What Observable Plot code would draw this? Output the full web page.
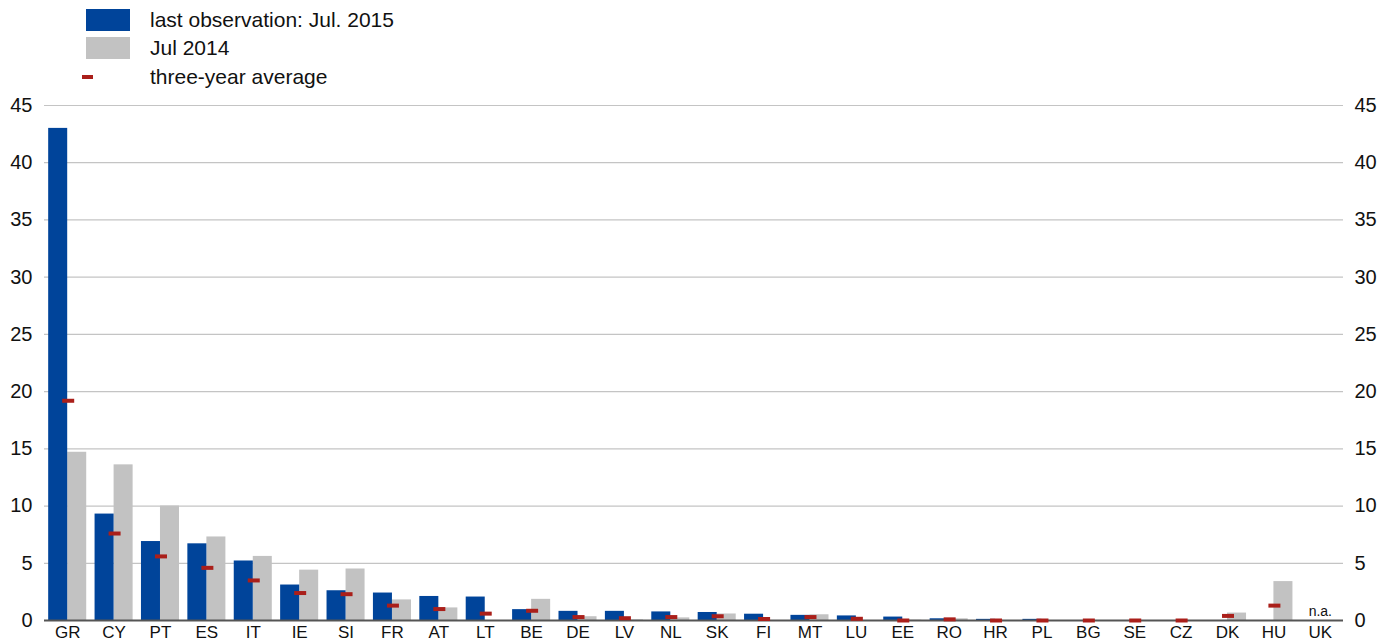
<!DOCTYPE html>
<html>
<head>
<meta charset="utf-8">
<script src="https://cdn.jsdelivr.net/npm/d3@7"></script>
<script src="https://cdn.jsdelivr.net/npm/@observablehq/plot@0.6"></script>
<style>
  body { margin: 0; background: #fff; font-family: "Liberation Sans", Arial, sans-serif; }
  #wrap { position: relative; width: 1394px; height: 643px; }
  #legend { position: relative; height: 92px; }
  .sw { position: absolute; }
  .lt { position: absolute; left: 150px; font-size: 21px; color: #111; line-height: 22px; white-space: nowrap; }
</style>
</head>
<body>
<div id="wrap">
  <div id="legend"></div>
  <div id="chart"></div>
</div>
<script>
const countries = ["GR","CY","PT","ES","IT","IE","SI","FR","AT","LT","BE","DE","LV","NL","SK","FI","MT","LU","EE","RO","HR","PL","BG","SE","CZ","DK","HU","UK"];
const last2015 = [43.0,9.3,6.9,6.7,5.2,3.1,2.6,2.4,2.1,2.05,0.95,0.8,0.8,0.75,0.7,0.55,0.45,0.4,0.3,0.15,0.1,0.1,0,0,0,0,0,null];
const jul2014  = [14.7,13.6,10.0,7.3,5.6,4.4,4.5,1.8,1.1,0,1.85,0.33,0.05,0.23,0.57,0,0.5,0,0.03,0.15,0,0,0,0,0,0.65,3.4,null];
const avg3     = [19.2,7.6,5.6,4.6,3.5,2.4,2.3,1.3,1.0,0.6,0.85,0.3,0.2,0.3,0.37,0.13,0.3,0.15,0,0.1,0,0,0,0,0,0.4,1.3,null];
const seriesNames = ["last observation: Jul. 2015", "Jul 2014", "three-year average"];
const yTicks = [0,5,10,15,20,25,30,35,40,45];
const naLabel = "n.a.";

const colBlue = "#00449a", colGray = "#c2c2c2", colRed = "#aa1f1a";

// legend
const legend = document.getElementById("legend");
legend.innerHTML = `
  <div class="sw" style="left:86px;top:9px;width:44px;height:22px;background:${colBlue}"></div>
  <div class="lt" style="top:9px">${seriesNames[0]}</div>
  <div class="sw" style="left:86px;top:37px;width:44px;height:22px;background:${colGray}"></div>
  <div class="lt" style="top:37px">${seriesNames[1]}</div>
  <div class="sw" style="left:82px;top:75px;width:11px;height:4px;background:${colRed}"></div>
  <div class="lt" style="top:66px">${seriesNames[2]}</div>
`;

const data = countries.map((c, i) => ({country: c, last: last2015[i], prev: jul2014[i], avg: avg3[i]}));

const W = 1394, H = 551;
const mL = 44, mR = 51, mT = 13, mB = 23;
const pI = 0.18, pO = 0.09;
const step = (W - mL - mR) / (countries.length - pI + 2 * pO);
const bw = step * (1 - pI);
const half = bw / 2;
const dashInset = (bw - 12) / 2;

const chart = Plot.plot({
  width: W,
  height: H,
  marginLeft: mL,
  marginRight: mR,
  marginTop: mT,
  marginBottom: mB,
  style: {fontFamily: "Liberation Sans, Arial, sans-serif", color: "#111", background: "#fff"},
  x: {type: "band", domain: countries, paddingInner: pI, paddingOuter: pO, round: false, label: null},
  y: {domain: [0, 45], ticks: yTicks, label: null},
  marks: [
    Plot.gridY(yTicks.filter(t => t > 0), {stroke: "#c4c4c4", strokeOpacity: 1, strokeWidth: 1.2}),
    Plot.barY(data.filter(d => d.prev != null), {x: "country", y: "prev", fill: colGray, insetLeft: half}),
    Plot.barY(data.filter(d => d.last != null), {x: "country", y: "last", fill: colBlue, insetRight: half}),
    Plot.ruleY([0], {stroke: "#555", strokeWidth: 2}),
    Plot.tickY(data.filter(d => d.avg != null), {x: "country", y: "avg", stroke: colRed, strokeWidth: 4, insetLeft: dashInset + 1, insetRight: dashInset - 1}),
    Plot.text(data.filter(d => d.last == null), {x: "country", y: 0, text: () => naLabel, dy: -9, fontSize: 14, fill: "#111"}),
    Plot.axisY({anchor: "left", ticks: yTicks, tickSize: 0, tickPadding: 12, fontSize: 20, label: null}),
    Plot.axisY({anchor: "right", ticks: yTicks, tickSize: 0, tickPadding: 11, fontSize: 20, label: null}),
    Plot.axisX({tickSize: 0, tickPadding: 5, fontSize: 17, label: null})
  ]
});
document.getElementById("chart").appendChild(chart);
</script>
</body>
</html>
